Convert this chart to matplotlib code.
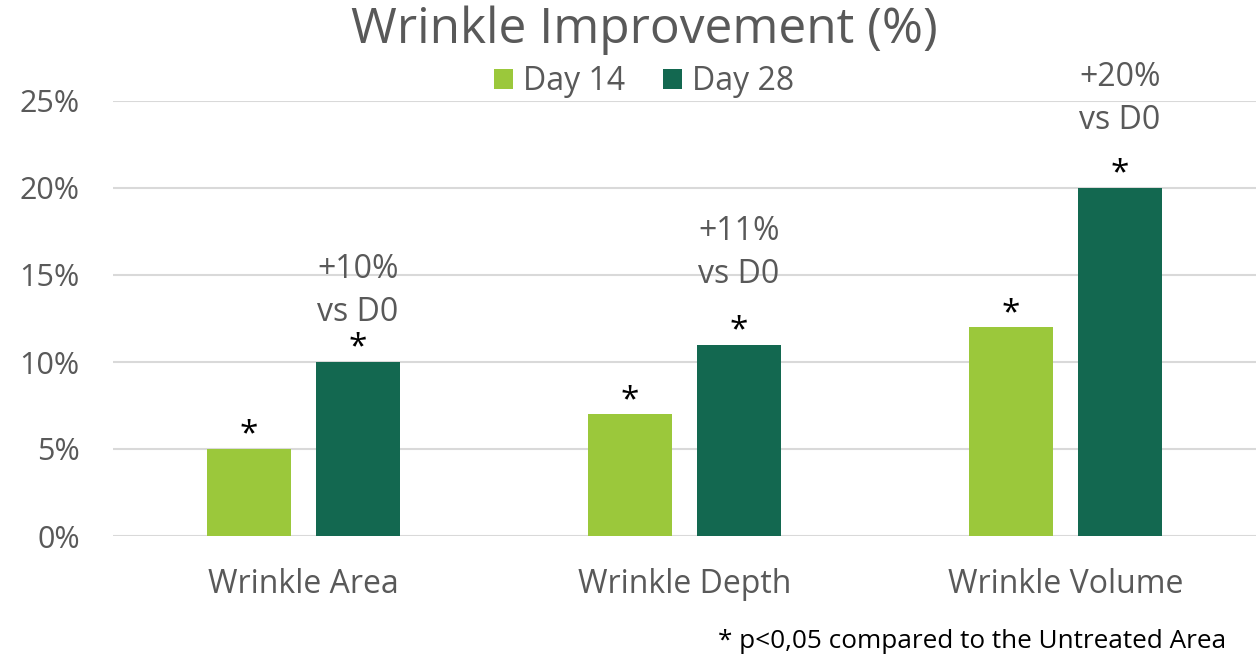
import matplotlib
matplotlib.use('Agg')
import matplotlib.pyplot as plt
import numpy as np

plt.rcParams['font.family'] = ['Open Sans', 'DejaVu Sans']

# data
categories = ['Wrinkle Area', 'Wrinkle Depth', 'Wrinkle Volume']
day14 = [5, 7, 12]
day28 = [10, 11, 20]
day28_labels = ['+10%\nvs D0', '+11%\nvs D0', '+20%\nvs D0']
yticks = [0, 5, 10, 15, 20, 25]

light = '#9BC83B'
dark = '#136850'
grey = '#595959'

fig = plt.figure(figsize=(12.58, 6.58), dpi=100)
ax = fig.add_axes([113 / 1258, 1 - 536 / 658, (1256 - 113) / 1258, (536 - 101) / 658])

x = np.arange(len(categories))
w = 0.223
off = 0.143
ax.bar(x - off, day14, w, color=light, label='Day 14', zorder=3)
ax.bar(x + off, day28, w, color=dark, label='Day 28', zorder=3)

ax.set_xlim(-0.5, 2.5)
ax.set_ylim(0, 25)
ax.set_yticks(yticks)
ax.set_yticklabels(['%d%%' % t for t in yticks])
ax.set_xticks(x)
ax.set_xticklabels(categories)
ax.tick_params(axis='y', length=0, pad=24, labelsize=22, labelcolor=grey)
ax.tick_params(axis='x', length=0, pad=23, labelsize=23, labelcolor=grey)
ax.grid(axis='y', color='#D9D9D9', linewidth=1.5, zorder=0)
for s in ax.spines.values():
    s.set_visible(False)

# asterisks above every bar
for xi, v in zip(x - off, day14):
    ax.annotate('*', (xi, v), xytext=(0, -2), textcoords='offset points',
                ha='center', va='bottom', fontsize=24, color='black')
for xi, v in zip(x + off, day28):
    ax.annotate('*', (xi, v), xytext=(0, -2), textcoords='offset points',
                ha='center', va='bottom', fontsize=24, color='black')

# change vs D0 labels (offsets in points)
lab_off = [51, 66, 64]
for xi, v, t, o in zip(x + off, day28, day28_labels, lab_off):
    ax.annotate(t, (xi, v), xytext=(0, o), textcoords='offset points',
                ha='center', va='center', fontsize=23, color=grey,
                linespacing=1.4)

fig.text(644 / 1258, 1 - 30 / 658, 'Wrinkle Improvement (%)', ha='center', va='center',
         fontsize=35.7, color=grey)
fig.legend(loc='center', bbox_to_anchor=(644 / 1258, 1 - 82 / 658), ncol=2, frameon=False,
           fontsize=23, labelcolor=grey, handlelength=0.6, handleheight=0.6,
           handletextpad=0.3, columnspacing=1.2)
fig.text(1226 / 1258, 1 - 641 / 658, '* p<0,05 compared to the Untreated Area',
         ha='right', va='center', fontsize=18.8, color='black')

fig.savefig('out.png', dpi=100)
